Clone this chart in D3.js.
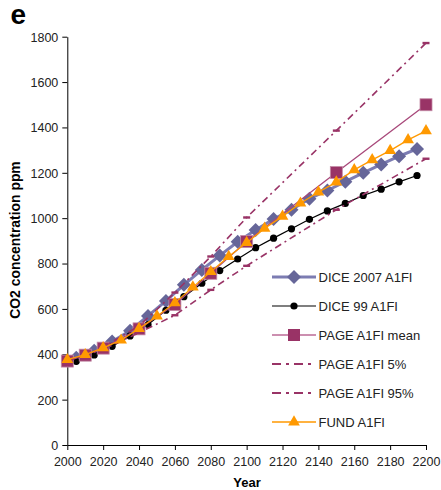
<!DOCTYPE html>
<html><head><meta charset="utf-8">
<script src="https://cdn.jsdelivr.net/npm/d3@7"></script>
<style>body{margin:0;background:#fff}svg{display:block}text{font-family:"Liberation Sans",Arial,sans-serif}</style>
</head><body><svg id="c" width="441" height="490"></svg>
<script>
const xTicks=[2000,2020,2040,2060,2080,2100,2120,2140,2160,2180,2200];
const yTicks=[0,200,400,600,800,1000,1200,1400,1600,1800];
const diceYears=[2005,2015,2025,2035,2045,2055,2065,2075,2085,2095,2105,2115,2125,2135,2145,2155,2165,2175,2185,2195];
const dice2007=[385,416,456,504,569,635,706,772,835,896,948,996,1037,1086,1122,1161,1200,1237,1273,1305];
const dice99=[369,397,435,481,531,594,654,713,769,820,870,912,953,995,1032,1065,1100,1128,1160,1188];
const pageYears=[2000,2010,2020,2040,2060,2080,2100,2150,2200];
const pageMean=[370,396,427,512,619,757,897,1201,1500];
const page5=[370,395,422,495,572,684,790,1037,1262];
const page95=[370,398,432,525,672,831,1003,1386,1772];
const fundYears=[2000,2010,2020,2030,2040,2050,2060,2070,2080,2090,2100,2110,2120,2130,2140,2150,2160,2170,2180,2190,2200];
const fund=[376,398,428,462,513,568,627,696,764,831,892,955,1008,1066,1115,1159,1213,1257,1298,1345,1385];
const legendLabels=["DICE 2007 A1FI","DICE 99 A1FI","PAGE A1FI mean","PAGE A1FI 5%","PAGE A1FI 95%","FUND A1FI"];

const svg=d3.select("#c");
const x=d3.scaleLinear().domain([2000,2200]).range([67.3,426]);
const y=d3.scaleLinear().domain([0,1800]).range([445,36.7]);

const gx=svg.append("g").attr("transform","translate(0,445)")
 .call(d3.axisBottom(x).tickValues(xTicks).tickFormat(d3.format("d")).tickSizeInner(5).tickSizeOuter(0));
const gy=svg.append("g").attr("transform","translate(67.3,0)")
 .call(d3.axisLeft(y).tickValues(yTicks).tickFormat(d3.format("d")).tickSizeInner(5).tickSizeOuter(0));
[gx,gy].forEach(g=>{g.selectAll("path,line").attr("stroke","#000");g.selectAll("text").attr("font-size",12.5).attr("fill","#222").attr("font-family","Liberation Sans, Arial, sans-serif");});
gx.selectAll("text").attr("dy","1.05em");
gy.selectAll("text").attr("x",-9).attr("dy","0.35em");

svg.append("text").attr("x",10.5).attr("y",23.5).attr("font-size",28).attr("font-weight","bold").text("e");
svg.append("text").attr("x",247).attr("y",487).attr("text-anchor","middle").attr("font-size",13).attr("font-weight","bold").text("Year");
svg.append("text").attr("transform","translate(20,240) rotate(-90)").attr("text-anchor","middle").attr("font-size",13.9).attr("font-weight","bold").text("CO2 concentration ppm");

const line=d3.line().x(d=>x(d[0])).y(d=>y(d[1]));
const zip=(a,b)=>a.map((v,i)=>[v,b[i]]);
const g=svg.append("g");
const COL={dice07:"#666699",dice07L:"#7c7cb2",page:"#993366",fund:"#ff9900"};
const triangle=d3.symbol().type(d3.symbolTriangle).size(60);
function diamondPath(s){return `M0,${-s}L${s},0L0,${s}L${-s},0Z`;}

// DICE 2007
const d07=zip(diceYears,dice2007);
g.append("path").attr("d",line(d07)).attr("fill","none").attr("stroke",COL.dice07L).attr("stroke-width",3);
g.selectAll(".dm").data(d07).join("path").attr("d",diamondPath(7)).attr("transform",d=>`translate(${x(d[0])},${y(d[1])})`).attr("fill",COL.dice07);
// DICE 99
const d99=zip(diceYears,dice99);
g.append("path").attr("d",line(d99)).attr("fill","none").attr("stroke","#000").attr("stroke-width",1.2);
g.selectAll(".ci").data(d99).join("circle").attr("cx",d=>x(d[0])).attr("cy",d=>y(d[1])).attr("r",3.6).attr("fill","#000");
// PAGE mean
const pm=zip(pageYears,pageMean);
g.append("path").attr("d",line(pm)).attr("fill","none").attr("stroke","#a8487a").attr("stroke-width",1.3);
g.selectAll(".sq").data(pm).join("rect").attr("x",d=>x(d[0])-6).attr("y",d=>y(d[1])-6).attr("width",12).attr("height",12).attr("fill",COL.page).attr("stroke","#c38aa6").attr("stroke-width",0.8);
// PAGE 5% / 95%
[page5,page95].forEach(arr=>{
 const dd=zip(pageYears,arr);
 g.append("path").attr("d",line(dd)).attr("fill","none").attr("stroke",COL.page).attr("stroke-width",1.6).attr("stroke-dasharray","7,4,2,4");
 g.selectAll(null).data(dd).join("rect").attr("x",d=>x(d[0])-3.5).attr("y",d=>y(d[1])-1.2).attr("width",7).attr("height",2.4).attr("fill",COL.page);
});
// FUND
const fd=zip(fundYears,fund);
g.append("path").attr("d",line(fd)).attr("fill","none").attr("stroke",COL.fund).attr("stroke-width",1.3);
g.selectAll(".tr").data(fd).join("path").attr("d",triangle).attr("transform",d=>`translate(${x(d[0])},${y(d[1])})`).attr("fill",COL.fund);

// legend
const ly=[277,306,335,364,393,422];
const L=svg.append("g");
legendLabels.forEach((lab,i)=>{
 const yy=ly[i];
 const ln=L.append("line").attr("x1",272).attr("x2",316).attr("y1",yy).attr("y2",yy);
 if(i===0){ln.attr("stroke",COL.dice07L).attr("stroke-width",3);L.append("path").attr("d",diamondPath(7)).attr("transform",`translate(294,${yy})`).attr("fill",COL.dice07);}
 if(i===1){ln.attr("stroke","#000").attr("stroke-width",1.2);L.append("circle").attr("cx",294).attr("cy",yy).attr("r",3.6).attr("fill","#000");}
 if(i===2){ln.attr("stroke","#cc8fb0").attr("stroke-width",2);L.append("rect").attr("x",288).attr("y",yy-6).attr("width",12).attr("height",12).attr("fill",COL.page);}
 if(i===3||i===4){ln.attr("stroke",COL.page).attr("stroke-width",2).attr("stroke-dasharray","9,5,3,5");}
 if(i===5){ln.attr("stroke",COL.fund).attr("stroke-width",1.3);L.append("path").attr("d",triangle).attr("transform",`translate(294,${yy})`).attr("fill",COL.fund);}
 L.append("text").attr("x",318.5).attr("y",yy).attr("dy","0.36em").attr("font-size",13).attr("fill","#222").text(lab);
});
</script></body></html>
